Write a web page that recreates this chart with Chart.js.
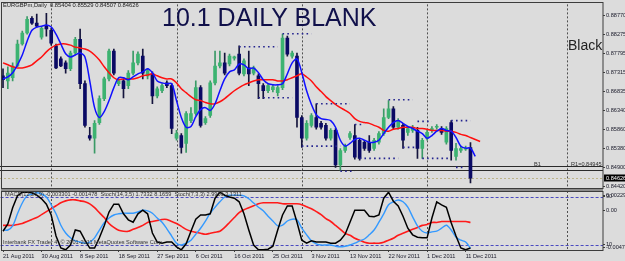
<!DOCTYPE html>
<html lang="en">
<head>
<meta charset="UTF-8">
<title>EURGBPm Daily</title>
<script src="https://cdn.jsdelivr.net/npm/chart.js"></script>
<style>
  body { margin:0; padding:0; background:#dcdcdc; width:625px; height:261px; overflow:hidden; position:relative; font-family:'Liberation Sans', Arial, sans-serif; }
  canvas { position:absolute; left:0; }
  #mainChart { top:0; }
  #subChart { top:189px; }
  .txt { position:absolute; white-space:nowrap; line-height:1; }
  #hdr { left:3px; top:3px; font-size:5.8px; color:#222; }
  #title { left:162px; top:5px; font-size:25px; line-height:25px; color:#10104a; }
  #black { left:568px; top:38px; font-size:14px; line-height:14px; color:#222; }
  #subHdr { left:5px; top:192px; font-size:5.6px; color:#333; }
  #copy { left:3px; top:240px; font-size:5.6px; color:#333; }
</style>
</head>
<body>
<canvas id="mainChart" width="625" height="196"></canvas>
<canvas id="subChart" width="625" height="72"></canvas>
<div class="txt" id="hdr">EURGBPm,Daily&nbsp; 0.85404 0.85529 0.84507 0.84626</div>
<div class="txt" id="title">10.1 DAILY BLANK</div>
<div class="txt" id="black">Black</div>
<div class="txt" id="subHdr">MACD(12,26,9) -0.003301 -0.001478&nbsp; Stoch(14,3,5) 1.7332 8.1659&nbsp; Stoch(7,3,3) 2.9906 3.1311</div>
<div class="txt" id="copy">Interbank FX Trader 4, © 2001-2011 MetaQuotes Software Corp.</div>
<script>
// date labels, one every 8 bars
const dateTicks = ['21 Aug 2011', '30 Aug 2011', '8 Sep 2011', '18 Sep 2011', '27 Sep 2011', '6 Oct 2011',
  '16 Oct 2011', '25 Oct 2011', '3 Nov 2011', '13 Nov 2011', '22 Nov 2011', '1 Dec 2011', '11 Dec 2011'];
const barsPerTick = 8;
const totalSlots = 125;

// daily candles
const open = [0.8723,0.8710,0.8718,0.8748,0.8804,0.8832,0.8869,0.8857,0.8821,0.8849,
  0.8839,0.8799,0.8766,0.8756,0.8741,0.8781,0.8816,0.8703,0.8571,0.8564,
  0.8604,0.8665,0.8715,0.8786,0.8703,0.8710,0.8698,0.8730,0.8756,0.8773,
  0.8723,0.8728,0.8672,0.8685,0.8705,0.8698,0.8564,0.8571,0.8551,0.8609,
  0.8627,0.8693,0.8604,0.8622,0.8705,0.8748,0.8756,0.8753,0.8768,0.8778,
  0.8728,0.8743,0.8730,0.8723,0.8698,0.8685,0.8688,0.8680,0.8693,0.8819,
  0.8773,0.8773,0.8617,0.8564,0.8597,0.8617,0.8602,0.8597,0.8564,0.8584,
  0.8496,0.8533,0.8566,0.8571,0.8559,0.8554,0.8554,0.8538,0.8554,0.8576,
  0.8617,0.8639,0.8592,0.8597,0.8579,0.8584,0.8584,0.8538,0.8564,0.8584,
  0.8592,0.8589,0.8554,0.8604,0.8518,0.8533,0.8536,0.85404];
const high = [0.8741,0.8746,0.8756,0.8814,0.8837,0.8874,0.8874,0.8880,0.8849,0.8882,
  0.8844,0.8804,0.8771,0.8761,0.8786,0.8821,0.8842,0.8710,0.8592,0.8609,
  0.8672,0.8720,0.8791,0.8791,0.8715,0.8715,0.8736,0.8786,0.8784,0.8791,
  0.8741,0.8733,0.8695,0.8703,0.8710,0.8703,0.8584,0.8576,0.8632,0.8642,
  0.8710,0.8698,0.8619,0.8710,0.8786,0.8786,0.8781,0.8778,0.8773,0.8799,
  0.8766,0.8786,0.8748,0.8728,0.8703,0.8703,0.8700,0.8698,0.8829,0.8824,
  0.8786,0.8781,0.8622,0.8609,0.8627,0.8652,0.8607,0.8602,0.8589,0.8589,
  0.8538,0.8549,0.8581,0.8599,0.8564,0.8559,0.8571,0.8564,0.8581,0.8639,
  0.8660,0.8645,0.8614,0.8602,0.8594,0.8597,0.8592,0.8564,0.8584,0.8594,
  0.8599,0.8594,0.8594,0.8609,0.8551,0.8544,0.8544,0.85529];
const low = [0.8693,0.8690,0.8710,0.8746,0.8801,0.8829,0.8854,0.8847,0.8816,0.8824,
  0.8801,0.8741,0.8746,0.8730,0.8736,0.8776,0.8690,0.8592,0.8559,0.8526,
  0.8599,0.8660,0.8710,0.8725,0.8698,0.8667,0.8690,0.8725,0.8751,0.8715,
  0.8715,0.8652,0.8667,0.8680,0.8693,0.8576,0.8559,0.8526,0.8528,0.8604,
  0.8622,0.8592,0.8599,0.8617,0.8700,0.8743,0.8725,0.8748,0.8763,0.8725,
  0.8723,0.8698,0.8725,0.8665,0.8665,0.8680,0.8682,0.8672,0.8688,0.8773,
  0.8768,0.8592,0.8541,0.8559,0.8592,0.8587,0.8587,0.8559,0.8559,0.8490,
  0.8483,0.8528,0.8561,0.8511,0.8508,0.8533,0.8528,0.8533,0.8549,0.8571,
  0.8614,0.8587,0.8587,0.8538,0.8571,0.8579,0.8513,0.8513,0.8559,0.8579,
  0.8587,0.8574,0.8549,0.8508,0.8508,0.8528,0.8533,0.84507];
const close = [0.8713,0.8730,0.8748,0.8804,0.8832,0.8867,0.8857,0.8849,0.8844,0.8842,
  0.8806,0.8743,0.8748,0.8741,0.8781,0.8816,0.8703,0.8597,0.8564,0.8602,
  0.8665,0.8715,0.8786,0.8730,0.8710,0.8690,0.8730,0.8756,0.8778,0.8730,
  0.8736,0.8672,0.8690,0.8698,0.8698,0.8589,0.8576,0.8541,0.8627,0.8627,
  0.8693,0.8597,0.8614,0.8705,0.8748,0.8756,0.8730,0.8773,0.8771,0.8730,
  0.8761,0.8728,0.8743,0.8703,0.8685,0.8698,0.8695,0.8693,0.8819,0.8778,
  0.8781,0.8617,0.8564,0.8602,0.8622,0.8592,0.8592,0.8564,0.8584,0.8496,
  0.8533,0.8544,0.8576,0.8516,0.8513,0.8538,0.8533,0.8559,0.8576,0.8617,
  0.8639,0.8592,0.8609,0.8559,0.8589,0.8592,0.8538,0.8559,0.8579,0.8589,
  0.8594,0.8579,0.8589,0.8533,0.8538,0.8538,0.8538,0.84626];

// moving averages (blue fast, red slow)
const maFast = [0.8715,0.8720,0.8731,0.8751,0.8776,0.8811,0.8839,0.8847,0.8849,0.8852,
  0.8847,0.8829,0.8804,0.8779,0.8771,0.8776,0.8781,0.8771,0.8710,0.8642,
  0.8617,0.8632,0.8660,0.8693,0.8718,0.8718,0.8713,0.8720,0.8728,0.8733,
  0.8741,0.8731,0.8710,0.8705,0.8703,0.8703,0.8660,0.8617,0.8592,0.8594,
  0.8619,0.8637,0.8642,0.8635,0.8652,0.8685,0.8715,0.8733,0.8738,0.8753,
  0.8751,0.8741,0.8743,0.8731,0.8713,0.8703,0.8700,0.8700,0.8703,0.8728,
  0.8756,0.8766,0.8731,0.8685,0.8650,0.8624,0.8614,0.8612,0.8609,0.8592,
  0.8559,0.8544,0.8551,0.8561,0.8564,0.8559,0.8554,0.8554,0.8559,0.8576,
  0.8592,0.8604,0.8609,0.8602,0.8594,0.8589,0.8582,0.8576,0.8564,0.8571,
  0.8582,0.8589,0.8584,0.8582,0.8566,0.8544,0.8539,0.8539,0.8518];
const maSlow = [0.8756,0.8751,0.8746,0.8743,0.8743,0.8746,0.8751,0.8761,0.8771,0.8784,
  0.8794,0.8801,0.8804,0.8804,0.8801,0.8796,0.8794,0.8791,0.8786,0.8776,
  0.8763,0.8746,0.8731,0.8718,0.8713,0.8715,0.8715,0.8715,0.8718,0.8723,
  0.8725,0.8728,0.8723,0.8718,0.8715,0.8715,0.8705,0.8690,0.8680,0.8670,
  0.8662,0.8660,0.8655,0.8652,0.8652,0.8657,0.8665,0.8675,0.8685,0.8693,
  0.8700,0.8705,0.8710,0.8713,0.8713,0.8713,0.8713,0.8710,0.8710,0.8713,
  0.8718,0.8723,0.8728,0.8720,0.8710,0.8695,0.8683,0.8670,0.8660,0.8650,
  0.8642,0.8635,0.8627,0.8614,0.8607,0.8604,0.8602,0.8597,0.8592,0.8584,
  0.8582,0.8587,0.8589,0.8592,0.8592,0.8592,0.8589,0.8589,0.8587,0.8584,
  0.8584,0.8584,0.8582,0.8582,0.8579,0.8574,0.8571,0.8566,0.8561,0.8556];

// dotted range lines: [first bar, last bar, price]
const boxLevels = [[49,57,0.8797],[58,64,0.8830],[53,60,0.8667],[65,72,0.8652],[62,70,0.8544],
  [70,73,0.8480],[73,75,0.8599],[74,82,0.8513],[80,85,0.8662],[83,86,0.8541],[86,89,0.8607],
  [87,93,0.8513],[93,97,0.8609],[94,96,0.8490]];
const hLines = [0.8493, 0.8484];
const bidPrice = 0.84626;
const separators = [10, 36, 62, 88, 117];
const priceTicks = [0.88770, 0.88275, 0.87795, 0.87315, 0.86835, 0.86340, 0.85860, 0.85380, 0.84900, 0.84420];

// lower window
const stochMain = [33,45,72,92,98,98,97,93,87,78,
  60,25,5,2,10,35,33,18,5,5,
  22,42,65,78,78,62,52,48,62,68,
  62,30,15,13,15,15,7,2,12,33,
  53,60,60,62,88,98,93,90,88,82,
  62,35,10,2,2,3,8,35,60,75,
  75,48,18,13,17,15,15,15,13,13,
  18,28,48,68,68,68,58,57,60,88,
  98,83,75,58,38,27,23,22,22,55,
  82,77,73,47,25,5,2,5];
const stochSlow = [35,35,42,62,80,92,95,97,95,90,
  77,62,43,30,22,17,15,13,15,22,
  35,47,55,60,62,63,63,63,65,68,
  67,63,55,48,37,25,13,10,13,18,
  28,38,50,63,73,82,90,93,93,93,
  92,87,80,73,67,58,50,42,43,50,
  53,52,38,27,17,12,10,10,10,8,
  7,8,10,13,17,20,27,35,48,62,
  77,82,85,82,73,57,42,33,30,32,
  33,38,43,35,23,18,15,5];
const macdLine = [-0.00179,-0.00179,-0.00179,-0.00168,-0.00156,-0.00133,-0.00109,-0.00086,-0.00051,-0.00016,
  0.00019,0.00054,0.00089,0.00112,0.00124,0.00124,0.00112,0.00101,0.00077,0.00031,
  -0.00028,-0.00086,-0.00156,-0.00203,-0.00238,-0.00249,-0.00249,-0.00226,-0.00203,-0.00179,
  -0.00144,-0.00133,-0.00121,-0.00109,-0.00109,-0.00133,-0.00156,-0.00191,-0.00226,-0.00249,
  -0.00261,-0.00273,-0.00284,-0.00273,-0.00261,-0.00249,-0.00203,-0.00144,-0.00086,-0.00028,
  0.00007,0.00031,0.00054,0.00077,0.00089,0.00089,0.00089,0.00089,0.00077,0.00077,
  0.00077,0.00077,0.00066,0.00042,0.00019,-0.00016,-0.00051,-0.00098,-0.00133,-0.00179,
  -0.00226,-0.00273,-0.00296,-0.00331,-0.00355,-0.00378,-0.00390,-0.00390,-0.00390,-0.00378,
  -0.00355,-0.00331,-0.00296,-0.00273,-0.00249,-0.00226,-0.00203,-0.00179,-0.00168,-0.00144,
  -0.00144,-0.00133,-0.00133,-0.00133,-0.00133,-0.00133,-0.00133,-0.00144];
const stochLevels = [90, 10];
const macdTop = 0.00229, macdBottom = -0.00471;

// ---- build ----
const slotLabels = [];
for (let i = 0; i < totalSlots; i++) {
  const k = i / barsPerTick;
  slotLabels.push(Number.isInteger(k) && k < dateTicks.length ? dateTicks[k] : '');
}
const BULL = '#3cb371', BEAR = '#0a0a64';
const isBull = open.map((o, i) => close[i] >= o);
const smallFont = { family: 'Liberation Sans', size: 5.6 };

const boxSets = boxLevels.map(([a, b, p]) => {
  const d = new Array(totalSlots).fill(null);
  for (let i = a; i <= b; i++) d[i] = p;
  return { type: 'line', data: d, borderColor: '#24248f', borderWidth: 1.6, borderDash: [1.6, 3.2],
    pointRadius: 0, spanGaps: false, order: 1 };
});

function vline(ctx, x, y0, y1) { ctx.beginPath(); ctx.moveTo(x, y0); ctx.lineTo(x, y1); ctx.stroke(); }
function hline(ctx, y, x0, x1) { ctx.beginPath(); ctx.moveTo(x0, y); ctx.lineTo(x1, y); ctx.stroke(); }

const mainDecor = {
  id: 'mainDecor',
  beforeDatasetsDraw(chart) {
    const { ctx, chartArea: a, scales: { x, y } } = chart;
    ctx.save();
    ctx.lineWidth = 1;
    ctx.strokeStyle = '#505050';
    ctx.setLineDash([2, 2]);
    separators.forEach(s => vline(ctx, Math.round(x.getPixelForValue(s)) + 0.5, a.top, a.bottom));
    ctx.strokeStyle = '#bdb58a';
    hline(ctx, Math.round(y.getPixelForValue(bidPrice)) + 0.5, 0, a.right);
    ctx.setLineDash([]);
    ctx.strokeStyle = '#2a2a2a';
    hLines.forEach(p => hline(ctx, Math.round(y.getPixelForValue(p)) + 0.5, 0, a.right));
    ctx.restore();
  },
  afterDraw(chart) {
    const { ctx, chartArea: a, scales: { y } } = chart;
    ctx.save();
    // frame and window separator
    ctx.strokeStyle = '#3c3c3c';
    ctx.lineWidth = 1;
    ctx.strokeRect(1.5, 2.5, a.right - 1.5, 186);
    ctx.fillStyle = '#8c8c8c';
    ctx.fillRect(1, 189, a.right - 1, 2);
    // labels on the lines
    ctx.font = '5.6px "Liberation Sans"';
    ctx.fillStyle = '#333';
    ctx.textBaseline = 'middle';
    const ly = y.getPixelForValue(hLines[0]) - 2;
    ctx.fillText('B1', 534, ly);
    ctx.fillText('R1=0.84945', 571, ly);
    // current price box
    const by = Math.round(y.getPixelForValue(bidPrice));
    ctx.fillStyle = '#000';
    ctx.fillRect(a.right + 1, by - 3.5, 22, 7);
    ctx.fillStyle = '#fff';
    ctx.fillText('0.84626', a.right + 3, by + 0.3);
    ctx.restore();
  }
};

new Chart(document.getElementById('mainChart'), {
  type: 'bar',
  data: {
    labels: slotLabels,
    datasets: [
      { data: open.map((o, i) => [low[i], high[i]]), backgroundColor: isBull.map(b => b ? '#3a9a66' : '#14143c'),
        barThickness: 1, grouped: false, order: 5 },
      { data: open.map((o, i) => [o, close[i]]), backgroundColor: isBull.map(b => b ? BULL : BEAR),
        barThickness: 3, minBarLength: 1, grouped: false, order: 4 },
      { type: 'line', data: maSlow, borderColor: '#ff1010', borderWidth: 1.5, pointRadius: 0, tension: 0.3, order: 3 },
      { type: 'line', data: maFast, borderColor: '#1010ff', borderWidth: 1.5, pointRadius: 0, tension: 0.3, order: 2 },
      ...boxSets
    ]
  },
  options: {
    responsive: false,
    animation: false,
    devicePixelRatio: 1,
    layout: { padding: { left: 0.6, top: 3, right: 0, bottom: 8 } },
    plugins: { legend: { display: false }, tooltip: { enabled: false } },
    scales: {
      x: { display: false, offset: true },
      y: {
        position: 'right',
        min: 0.84375, max: 0.89048,
        afterBuildTicks: ax => { ax.ticks = priceTicks.map(v => ({ value: v })); },
        afterFit: ax => { ax.width = 22; },
        border: { display: false },
        grid: { drawOnChartArea: false, tickLength: 2, color: '#404040' },
        ticks: { font: smallFont, color: '#1a1a2a', padding: 1, callback: v => v.toFixed(5) }
      }
    }
  },
  plugins: [mainDecor]
});

const subDecor = {
  id: 'subDecor',
  beforeDatasetsDraw(chart) {
    const { ctx, chartArea: a, scales: { x, y } } = chart;
    ctx.save();
    ctx.lineWidth = 1;
    ctx.strokeStyle = '#505050';
    ctx.setLineDash([2, 2]);
    separators.forEach(s => vline(ctx, Math.round(x.getPixelForValue(s)) + 0.5, a.top, a.bottom));
    ctx.strokeStyle = '#4a4ac0';
    ctx.setLineDash([3, 2]);
    stochLevels.forEach(v => hline(ctx, Math.round(y.getPixelForValue(v)) + 0.5, a.left, a.right));
    ctx.restore();
  },
  afterDraw(chart) {
    const { ctx, chartArea: a, scales: { y, y2 } } = chart;
    ctx.save();
    ctx.strokeStyle = '#3c3c3c';
    ctx.lineWidth = 1;
    ctx.strokeRect(1.5, a.top + 0.5, a.right - 1.5, a.bottom - a.top);
    ctx.font = '5.6px "Liberation Sans"';
    ctx.fillStyle = '#1a1a2a';
    ctx.textBaseline = 'middle';
    const lx = a.right + 3;
    const rows = [
      ['0.00229', y2.getPixelForValue(macdTop) + 4],
      ['0.00', y2.getPixelForValue(0)],
      ['-0.00471', y2.getPixelForValue(macdBottom) - 3],
      ['90', y.getPixelForValue(stochLevels[0]) - 1],
      ['10', y.getPixelForValue(stochLevels[1]) - 1]
    ];
    rows.forEach(([t, py]) => {
      ctx.fillText(t, lx, py);
      hline(ctx, Math.round(py) + 0.5, a.right, a.right + 2);
    });
    ctx.restore();
  }
};

new Chart(document.getElementById('subChart'), {
  type: 'line',
  data: {
    labels: slotLabels,
    datasets: [
      { data: macdLine, yAxisID: 'y2', borderColor: '#ff1a1a', borderWidth: 1.6, pointRadius: 0, tension: 0.3, order: 3 },
      { data: stochSlow, yAxisID: 'y', borderColor: '#3399ff', borderWidth: 1.4, pointRadius: 0, tension: 0.3, order: 2 },
      { data: stochMain, yAxisID: 'y', borderColor: '#000000', borderWidth: 1.5, pointRadius: 0, tension: 0, order: 1 }
    ]
  },
  options: {
    responsive: false,
    animation: false,
    devicePixelRatio: 1,
    layout: { padding: { left: 0.6, top: 2, right: 22, bottom: 0 } },
    plugins: { legend: { display: false }, tooltip: { enabled: false } },
    scales: {
      x: {
        offset: true,
        border: { display: false },
        grid: { drawOnChartArea: false, offset: false, tickLength: 2,
          color: c => slotLabels[c.index] ? '#404040' : 'rgba(0,0,0,0)' },
        ticks: { autoSkip: false, maxRotation: 0, minRotation: 0, align: 'start', padding: 1,
          font: smallFont, color: '#1a1a2a', callback: (v, i) => slotLabels[i] },
        afterFit: ax => { ax.height = 11; }
      },
      y: { display: false, min: 1.7, max: 100 },
      y2: { display: false, min: macdBottom, max: macdTop }
    }
  },
  plugins: [subDecor]
});
</script>
</body>
</html>
